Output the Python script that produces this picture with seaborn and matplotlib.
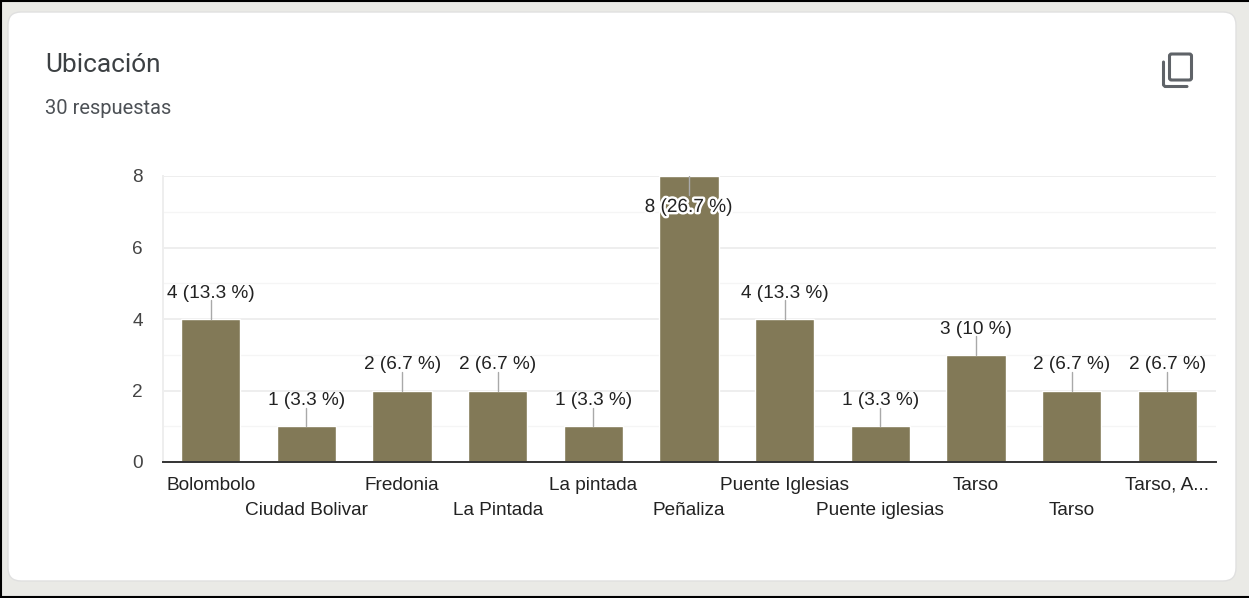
import matplotlib
matplotlib.use("Agg")
import matplotlib.pyplot as plt
import matplotlib.patheffects as pe
from matplotlib.patches import FancyBboxPatch
import seaborn as sns
import pandas as pd

categories = ["Bolombolo", "Ciudad Bolivar", "Fredonia", "La Pintada", "La pintada", "Peñaliza",
              "Puente Iglesias", "Puente iglesias", "Tarso", "Tarso ", "Tarso, A..."]
counts = [4, 1, 2, 2, 1, 8, 4, 1, 3, 2, 2]
value_labels = ["4 (13.3 %)", "1 (3.3 %)", "2 (6.7 %)", "2 (6.7 %)", "1 (3.3 %)", "8 (26.7 %)",
                "4 (13.3 %)", "1 (3.3 %)", "3 (10 %)", "2 (6.7 %)", "2 (6.7 %)"]
title = "Ubicación"
subtitle = "30 respuestas"
major_ticks = [0, 2, 4, 6, 8]
minor_ticks = [1, 3, 5, 7]

W, H = 1249, 598
FS = 13.7
sns.set_theme(style="white")
plt.rcParams['font.family'] = ['Liberation Sans', 'DejaVu Sans']
fig = plt.figure(figsize=(W / 100, H / 100), dpi=100, facecolor="#eaeae6")

# page layer in pixel coordinates
bg = fig.add_axes([0, 0, 1, 1], zorder=0)
bg.set_xlim(0, W); bg.set_ylim(H, 0); bg.axis("off")
bg.add_patch(FancyBboxPatch((8, 12), 1228, 569, boxstyle="round,pad=0,rounding_size=13",
                            fc="white", ec="#e0e0e0", lw=1.0))
bg.plot([0, W], [1, 1], color="black", lw=1.5)
bg.plot([1, 1], [0, H], color="black", lw=1.5)
bg.plot([0, W], [596.5, 596.5], color="black", lw=1.5)
bg.text(45, 64.5, title, family="Roboto", fontsize=18.9, color="#3c4043", va="center", ha="left")
bg.text(45, 108.5, subtitle, family="Roboto", fontsize=14.5, color="#4d5156", va="center", ha="left")
# copy icon
bg.add_patch(FancyBboxPatch((1169.5, 54), 22, 26, boxstyle="round,pad=0,rounding_size=2",
                            fc="none", ec="#5f6368", lw=2.2))
bg.plot([1163.5, 1163.5, 1165, 1187], [62, 85, 86.5, 86.5], color="#5f6368", lw=2.2,
        solid_capstyle="round", solid_joinstyle="round")

# chart
ax = fig.add_axes([163 / W, 1 - 462 / H, (1216 - 163) / W, (462 - 176) / H], zorder=1)
ax.patch.set_alpha(0)
df = pd.DataFrame({"cat": categories, "n": counts})
sns.barplot(data=df, x="cat", y="n", color="#827957", saturation=1, width=0.62, ax=ax, zorder=3)
ax.set_xlim(-0.5, 10.51)
ax.set_ylim(0, 8)
ax.set_xlabel(""); ax.set_ylabel("")
ax.set_yticks(major_ticks)
ax.set_yticks(minor_ticks, minor=True)
ax.grid(True, which="major", axis="y", color="#eeeeee", lw=1.4, zorder=0)
ax.grid(True, which="minor", axis="y", color="#f5f5f5", lw=1.0, zorder=0)
ax.grid(False, axis="x")
ax.set_axisbelow(True)
for s in ["top", "right"]:
    ax.spines[s].set_visible(False)
ax.spines["left"].set_color("#eeeeee"); ax.spines["left"].set_linewidth(1.4)
ax.spines["bottom"].set_color("#333333"); ax.spines["bottom"].set_linewidth(1.4)
ax.spines["bottom"].set_zorder(5)
ax.tick_params(axis="y", which="both", length=0, pad=14.5, labelsize=FS, labelcolor="#444444")
ax.tick_params(axis="x", length=0, labelsize=FS, labelcolor="#222222")
for lab in ax.get_yticklabels():
    lab.set_verticalalignment("center_baseline")
ax.set_xticks(range(len(categories)))
ax.set_xticklabels([c.strip() for c in categories])
for i, t in enumerate(ax.xaxis.get_major_ticks()):
    t.set_pad(10.8 if i % 2 == 0 else 28.8)

# leader lines and value labels
peak = max(counts)
for i, (v, lab) in enumerate(zip(counts, value_labels)):
    if v == peak:
        ax.plot([i, i], [v, v - 0.52], color="#a9a9a9", lw=1, zorder=4)
        ax.text(i - 0.005, v - 0.88, lab, ha="center", va="center", fontsize=FS, color="#222222", zorder=6,
                path_effects=[pe.withStroke(linewidth=3.5, foreground="white")])
    else:
        ax.plot([i, i], [v, v + 0.52], color="#a9a9a9", lw=1, zorder=4)
        ax.text(i, v + 0.72, lab, ha="center", va="center", fontsize=FS, color="#222222", zorder=6)

fig.savefig("out.png", dpi=100, facecolor=fig.get_facecolor())
